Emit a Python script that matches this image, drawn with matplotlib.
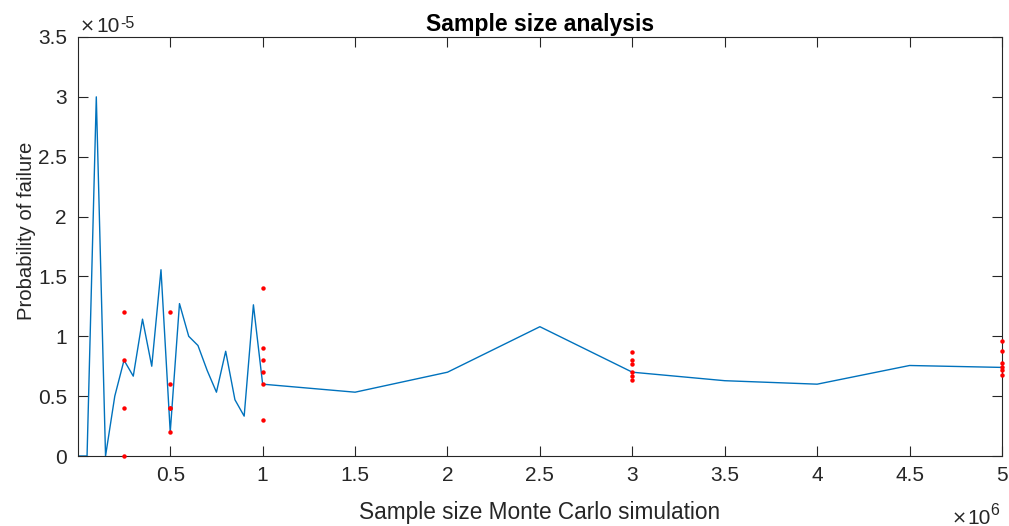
import matplotlib
matplotlib.use("Agg")
import matplotlib.pyplot as plt
from matplotlib.ticker import FuncFormatter, FixedLocator
import numpy as np

plt.rcParams['font.family'] = ['Liberation Sans', 'DejaVu Sans']

# Mean curve: sample sizes and probability of failure
sample_sizes = [1e3, 0.05e6, 0.10e6, 0.15e6, 0.20e6, 0.25e6, 0.30e6, 0.35e6, 0.40e6,
                0.45e6, 0.50e6, 0.55e6, 0.60e6, 0.65e6, 0.70e6, 0.75e6, 0.80e6,
                0.85e6, 0.90e6, 0.95e6, 1.0e6, 1.5e6, 2.0e6, 2.5e6, 3.0e6, 3.5e6,
                4.0e6, 4.5e6, 5.0e6]
pf_curve = [0.0, 0.0, 3.0e-5, 0.0, 0.5e-5, 0.8e-5, 0.667e-5, 1.143e-5, 0.75e-5,
            1.556e-5, 0.2e-5, 1.273e-5, 1.0e-5, 0.923e-5, 0.714e-5, 0.533e-5, 0.875e-5,
            0.47e-5, 0.333e-5, 1.263e-5, 0.6e-5, 0.533e-5, 0.7e-5, 1.08e-5, 0.7e-5, 0.629e-5,
            0.6e-5, 0.756e-5, 0.74e-5]

# Repeated runs (red dots)
rep_n_025 = 0.25e6
rep_pf_025 = [1.2e-5, 0.8e-5, 0.4e-5, 0.0]
rep_n_05 = 0.5e6
rep_pf_05 = [1.2e-5, 0.6e-5, 0.4e-5, 0.4e-5, 0.2e-5]
rep_n_1 = 1.0e6
rep_pf_1 = [1.4e-5, 0.9e-5, 0.8e-5, 0.7e-5, 0.6e-5, 0.3e-5]
rep_n_3 = 3.0e6
rep_pf_3 = [0.867e-5, 0.8e-5, 0.767e-5, 0.7e-5, 0.667e-5, 0.633e-5]
rep_n_5 = 5.0e6
rep_pf_5 = [0.96e-5, 0.88e-5, 0.78e-5, 0.74e-5, 0.72e-5, 0.68e-5]

xticks = [0.5e6, 1e6, 1.5e6, 2e6, 2.5e6, 3e6, 3.5e6, 4e6, 4.5e6, 5e6]
yticks = [0, 0.5e-5, 1e-5, 1.5e-5, 2e-5, 2.5e-5, 3e-5, 3.5e-5]

W, H = 1009, 526
fig = plt.figure(figsize=(W / 100, H / 100), dpi=100)
ax = fig.add_axes([78 / W, 1 - 456 / H, (1002 - 78) / W, (456 - 37) / H])

dark = '#262626'
ax.plot(sample_sizes, pf_curve, color='#0072BD', lw=1.0, zorder=2)
for n, vals in [(rep_n_025, rep_pf_025), (rep_n_05, rep_pf_05), (rep_n_1, rep_pf_1),
                (rep_n_3, rep_pf_3), (rep_n_5, rep_pf_5)]:
    ax.plot([n] * len(vals), vals, linestyle='none', marker='o', ms=3.2,
            color='#FF0000', mec='none', zorder=3, clip_on=False)

ax.set_xlim(sample_sizes[0], 5e6)
ax.set_ylim(0, 3.5e-5)
ax.xaxis.set_major_locator(FixedLocator(xticks))
ax.yaxis.set_major_locator(FixedLocator(yticks))
ax.xaxis.set_major_formatter(FuncFormatter(lambda v, p: f"{v / 1e6:g}"))
ax.yaxis.set_major_formatter(FuncFormatter(lambda v, p: f"{v / 1e-5:g}"))

fs_tick = 15
ax.tick_params(direction='in', length=7.5, width=0.8, colors=dark,
               labelsize=fs_tick, top=True, right=True)
ax.tick_params(axis='y', pad=8)
ax.tick_params(axis='x', pad=7)
for s in ax.spines.values():
    s.set_color(dark)
    s.set_linewidth(0.8)

ax.set_title('Sample size analysis', fontsize=16.6, fontweight='bold', color='black', pad=4)
ax.set_xlabel('Sample size Monte Carlo simulation', fontsize=16.3, color=dark, labelpad=11.5)
ax.set_ylabel('Probability of failure', fontsize=14.6, color=dark)
ax.yaxis.set_label_coords(-0.045, 0.537)

# exponent annotations (MATLAB style)
def exponent(x_times, x_ten, x_sup, base_y, sup_y, sup):
    fig.text(x_times / W, 1 - base_y / H, '×', fontsize=13, family='DejaVu Sans',
             color=dark, ha='left', va='baseline')
    fig.text(x_ten / W, 1 - base_y / H, '10', fontsize=fs_tick, color=dark,
             ha='left', va='baseline')
    fig.text(x_sup / W, 1 - sup_y / H, sup, fontsize=11.5, color=dark,
             ha='left', va='baseline')

exponent(80, 96.5, 120.5, 32, 28, '-5')
exponent(952, 967.5, 990, 524, 515, '6')

fig.savefig('out.png', dpi=100)
